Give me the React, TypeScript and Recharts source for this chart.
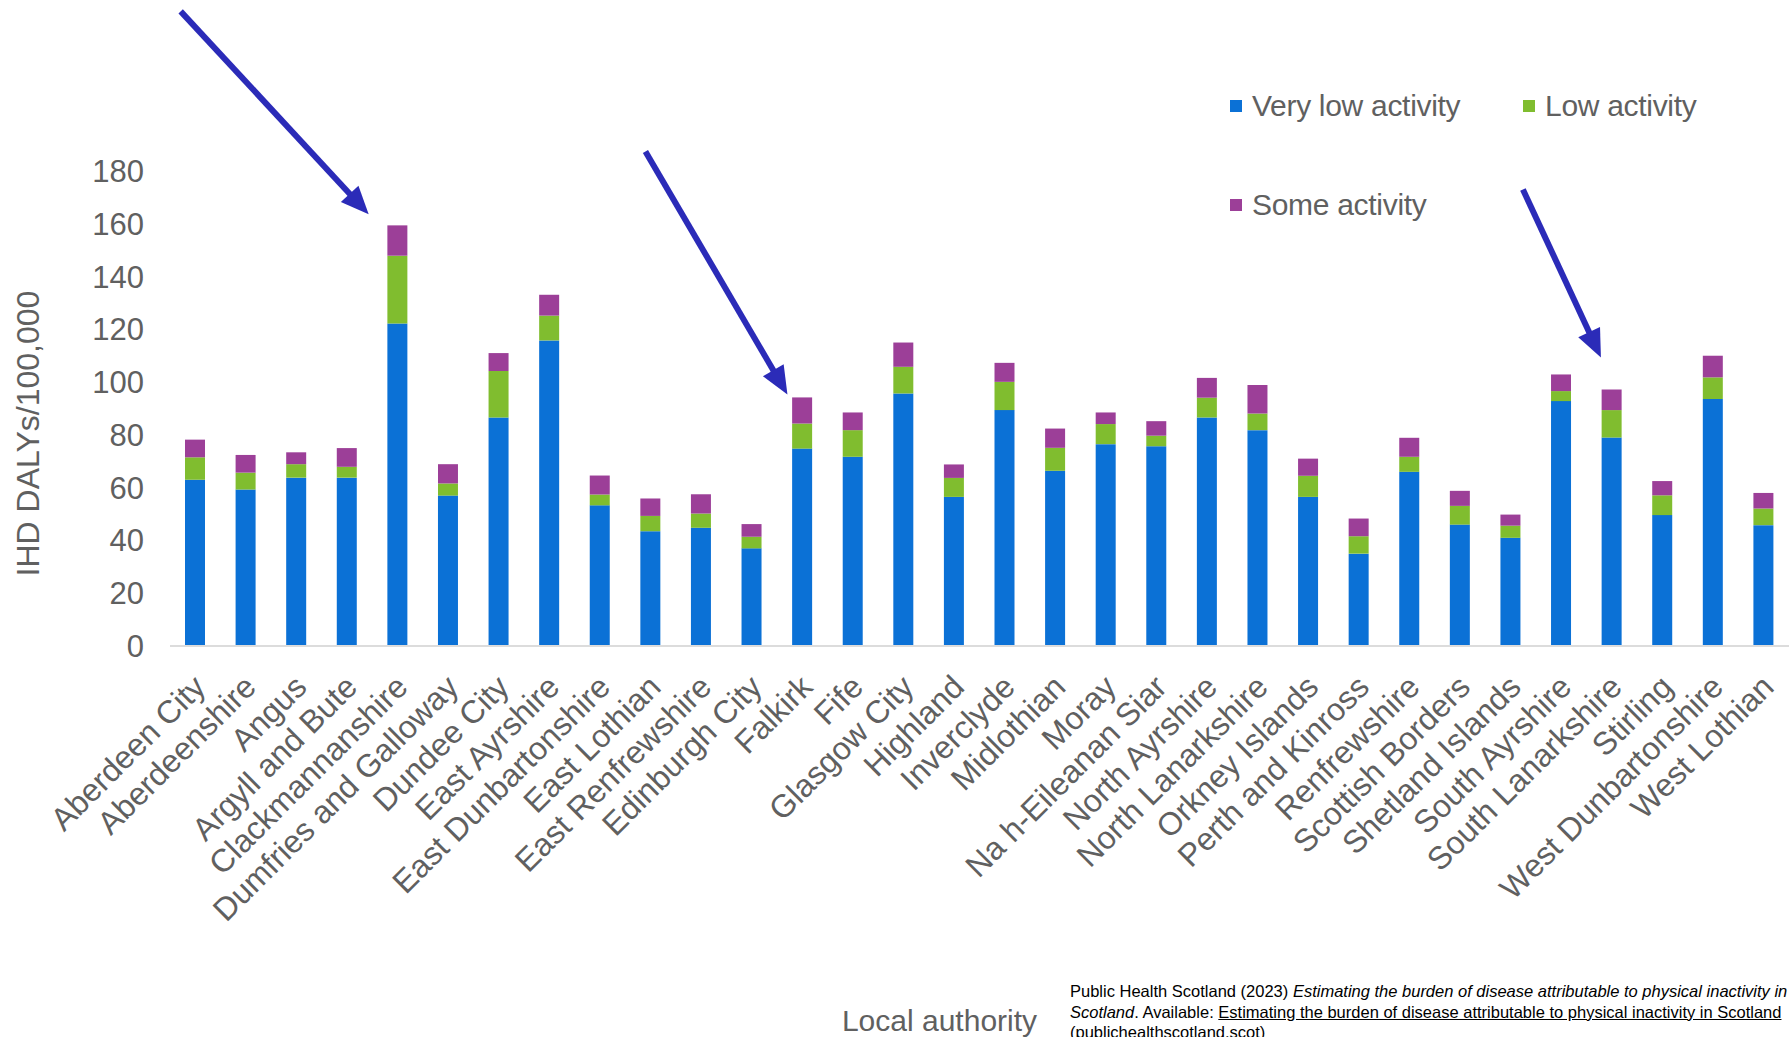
import React from 'react';
import {
  BarChart, Bar, XAxis, YAxis, Legend, ReferenceDot,
} from 'recharts';

const AUTHORITIES = [
  'Aberdeen City', 'Aberdeenshire', 'Angus', 'Argyll and Bute', 'Clackmannanshire',
  'Dumfries and Galloway', 'Dundee City', 'East Ayrshire', 'East Dunbartonshire',
  'East Lothian', 'East Renfrewshire', 'Edinburgh City', 'Falkirk', 'Fife',
  'Glasgow City', 'Highland', 'Inverclyde', 'Midlothian', 'Moray', 'Na h-Eileanan Siar',
  'North Ayrshire', 'North Lanarkshire', 'Orkney Islands', 'Perth and Kinross',
  'Renfrewshire', 'Scottish Borders', 'Shetland Islands', 'South Ayrshire',
  'South Lanarkshire', 'Stirling', 'West Dunbartonshire', 'West Lothian',
];

const VERY_LOW = [
  63, 59.3, 63.8, 63.8, 122.2, 57, 86.6, 115.8, 53.3, 43.5, 44.8, 37, 74.8, 71.7,
  95.7, 56.5, 89.4, 66.4, 76.5, 75.7, 86.6, 81.8, 56.5, 35, 66, 46, 41, 92.8,
  79, 49.6, 93.6, 45.8,
];
const LOW = [
  8.5, 6.4, 5.1, 4.1, 25.7, 4.6, 17.6, 9.4, 4.1, 5.8, 5.4, 4.4, 9.5, 10.1,
  10.1, 7.2, 10.7, 8.7, 7.6, 4, 7.5, 6.3, 8, 6.6, 5.7, 7.1, 4.6, 3.8,
  10.4, 7.5, 8.2, 6.3,
];
const SOME = [
  6.7, 6.7, 4.5, 7.1, 11.5, 7.3, 6.8, 7.9, 7.2, 6.6, 7.3, 4.8, 9.9, 6.7,
  9.2, 5.1, 7.2, 7.3, 4.4, 5.5, 7.5, 10.8, 6.5, 6.7, 7.2, 5.7, 4.2, 6.3,
  7.8, 5.4, 8.2, 5.9,
];

const Y_TICKS = [0, 20, 40, 60, 80, 100, 120, 140, 160, 180];

// arrows point at these bars: [authority, tip offset x, tip offset y, tail dx, tail dy]
const ARROWS: [string, number, number, number, number][] = [
  ['Clackmannanshire', -29, -11, -188, -203],
  ['Falkirk', -15, -3, -142, -243],
  ['South Lanarkshire', -11, -32, -78, -168],
];

const data = AUTHORITIES.map((name, i) => ({
  name,
  veryLow: VERY_LOW[i],
  low: LOW[i],
  some: SOME[i],
  total: VERY_LOW[i] + LOW[i] + SOME[i],
}));

const FONT = '"Liberation Sans", Arial, Helvetica, sans-serif';
const TEXT = '#606060';
const BLUE = '#0b71d6';
const GREEN = '#80bd2f';
const PURPLE = '#9c3f98';
const ARROW = '#2b2bb8';

const LEGEND_ITEMS = [
  { label: 'Very low activity', color: BLUE, left: 0, top: 0 },
  { label: 'Low activity', color: GREEN, left: 293, top: 0 },
  { label: 'Some activity', color: PURPLE, left: 0, top: 99 },
];

function XTick({ x, y, payload }: any) {
  const ax = x + 12;
  const ay = y + 35;
  return (
    <text
      x={ax}
      y={ay}
      textAnchor="end"
      transform={`rotate(-45 ${ax} ${ay})`}
      fill={TEXT}
      fontSize={32}
      fontFamily={FONT}
    >
      {payload.value}
    </text>
  );
}

function arrowShape(tipDx: number, tipDy: number, tailDx: number, tailDy: number) {
  return ({ cx, cy }: any) => {
    const tx = cx + tipDx;
    const ty = cy + tipDy;
    const len = Math.hypot(tailDx, tailDy);
    const ux = -tailDx / len;
    const uy = -tailDy / len;
    const head = 28;
    const half = 12;
    const bx = tx - ux * head;
    const by = ty - uy * head;
    return (
      <g>
        <line x1={tx + tailDx} y1={ty + tailDy} x2={bx + ux * 2} y2={by + uy * 2}
          stroke={ARROW} strokeWidth={6} />
        <polygon
          points={`${tx},${ty} ${bx - uy * half},${by + ux * half} ${bx + uy * half},${by - ux * half}`}
          fill={ARROW}
        />
      </g>
    );
  };
}

function LegendBox() {
  return (
    <div style={{ position: 'relative', width: 560, height: 150 }}>
      {LEGEND_ITEMS.map((it) => (
        <div key={it.label} style={{
          position: 'absolute', left: it.left, top: it.top,
          display: 'flex', alignItems: 'center', height: 40, whiteSpace: 'nowrap',
        }}>
          <span style={{ width: 12, height: 12, background: it.color, marginRight: 10 }} />
          <span style={{ fontSize: 30, color: TEXT, fontFamily: FONT, letterSpacing: -0.3 }}>{it.label}</span>
        </div>
      ))}
    </div>
  );
}

export default function App() {
  return (
    <div style={{ position: 'absolute', left: 0, top: 0, width: 1789, height: 1037, background: '#fff', overflow: 'hidden' }}>
      <BarChart
        width={1789}
        height={1037}
        data={data}
        margin={{ top: 171, right: 0, left: 0, bottom: 0 }}
        barSize={20}
      >
        <XAxis
          dataKey="name"
          interval={0}
          height={391}
          tickLine={false}
          axisLine={{ stroke: '#dcdcdc', strokeWidth: 2 }}
          tick={<XTick />}
          label={{
            content: ({ viewBox }: any) => (
              <text x={viewBox.x + viewBox.width / 2 - 40} y={viewBox.y + 385} textAnchor="middle"
                fill={TEXT} fontSize={30} fontFamily={FONT}>Local authority</text>
            ),
          }}
        />
        <YAxis
          width={170}
          domain={[0, 180]}
          ticks={Y_TICKS}
          tickLine={false}
          axisLine={false}
          tickMargin={20}
          tick={{ fill: TEXT, fontSize: 31, fontFamily: FONT }}
          label={{
            content: ({ viewBox }: any) => {
              const cx = viewBox.x + 28;
              const cy = viewBox.y + viewBox.height / 2 + 25;
              return (
                <text x={cx} y={cy} textAnchor="middle" dominantBaseline="central"
                  transform={`rotate(-90 ${cx} ${cy})`} fill={TEXT} fontSize={32} fontFamily={FONT}>
                  IHD DALYs/100,000
                </text>
              );
            },
          }}
        />
        <Legend
          layout="horizontal"
          verticalAlign="middle"
          align="center"
          content={<LegendBox />}
          wrapperStyle={{ position: 'absolute', left: 1230, top: 86, width: 560, height: 150 }}
        />
        <Bar dataKey="veryLow" name="Very low activity" stackId="a" fill={BLUE} isAnimationActive={false} />
        <Bar dataKey="low" name="Low activity" stackId="a" fill={GREEN} isAnimationActive={false} />
        <Bar dataKey="some" name="Some activity" stackId="a" fill={PURPLE} isAnimationActive={false} />
        {ARROWS.map(([name, tdx, tdy, ldx, ldy]) => {
          const row = data.find((d) => d.name === name)!;
          return (
            <ReferenceDot key={name} x={name} y={row.total} ifOverflow="visible"
              shape={arrowShape(tdx, tdy, ldx, ldy)} />
          );
        })}
      </BarChart>
      <div style={{
        position: 'absolute', left: 1070, top: 981, fontSize: 16.5, lineHeight: '20.5px',
        fontFamily: FONT, color: '#000', whiteSpace: 'nowrap',
      }}>
        <div>Public Health Scotland (2023) <i>Estimating the burden of disease attributable to physical inactivity in</i></div>
        <div><i>Scotland</i>. Available: <u>Estimating the burden of disease attributable to physical inactivity in Scotland</u></div>
        <div><u>(publichealthscotland.scot)</u></div>
      </div>
    </div>
  );
}
